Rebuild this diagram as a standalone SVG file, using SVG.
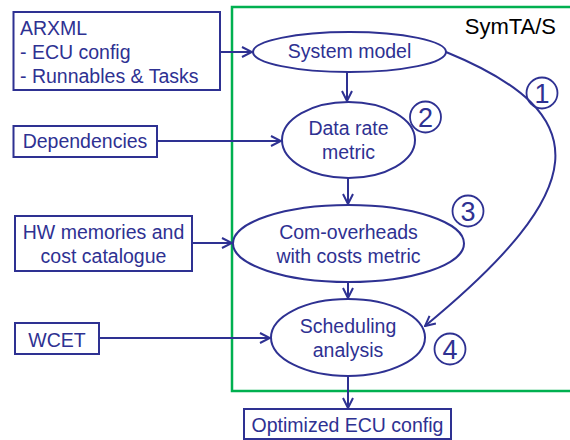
<svg xmlns="http://www.w3.org/2000/svg" width="570" height="440" viewBox="0 0 570 440">
<defs>
<style>
.box{fill:#fff;stroke:#2E3192;stroke-width:2}
.ell{fill:#fff;stroke:#2E3192;stroke-width:2}
.t{font-family:"Liberation Sans",Arial,sans-serif;font-size:19.5px;fill:#2E3192}
.c{text-anchor:middle}
.ln{fill:none;stroke:#2E3192;stroke-width:2}
.num{fill:none;stroke:#2E3192;stroke-width:1.8}
.nt{font-family:"Liberation Sans",Arial,sans-serif;font-size:27px;fill:#2E3192;text-anchor:middle}
</style>
<marker id="ah" viewBox="0 0 12 12" refX="11" refY="6" markerWidth="12" markerHeight="12" markerUnits="userSpaceOnUse" orient="auto">
<path d="M1,1 L11,6 L1,11" fill="none" stroke="#2E3192" stroke-width="2"/>
</marker>
</defs>
<rect width="570" height="440" fill="#fff"/>
<g id="symtas">
<rect x="232" y="7" width="345" height="384" fill="none" stroke="#00B050" stroke-width="2.5"/>
<text x="556" y="34" font-family="Liberation Sans,Arial,sans-serif" font-size="22" fill="#000" text-anchor="end">SymTA/S</text>
</g>
<g id="connectors">
<line class="ln" x1="220" y1="52" x2="252" y2="52" marker-end="url(#ah)"/>
<line class="ln" x1="157" y1="141" x2="281" y2="141" marker-end="url(#ah)"/>
<line class="ln" x1="192" y1="243" x2="232" y2="243" marker-end="url(#ah)"/>
<line class="ln" x1="99" y1="338" x2="270" y2="338" marker-end="url(#ah)"/>
<line class="ln" x1="347" y1="72" x2="347" y2="101" marker-end="url(#ah)"/>
<line class="ln" x1="348" y1="178" x2="348" y2="204" marker-end="url(#ah)"/>
<line class="ln" x1="348" y1="282" x2="348" y2="298" marker-end="url(#ah)"/>
<line class="ln" x1="348" y1="376" x2="348" y2="408" marker-end="url(#ah)"/>
<path class="ln" d="M446,52 C600,115 590,190 425,326" marker-end="url(#ah)"/>
</g>
<g id="arxml">
<rect class="box" x="13.5" y="12" width="206.5" height="78"/>
<text class="t" x="20" y="35">ARXML</text>
<text class="t" x="20" y="59">- ECU config</text>
<text class="t" x="20" y="83">- Runnables &amp; Tasks</text>
</g>
<g id="dependencies">
<rect class="box" x="13.5" y="126" width="143.5" height="31"/>
<text class="t c" x="85" y="148">Dependencies</text>
</g>
<g id="hw">
<rect class="box" x="15" y="216" width="177" height="55"/>
<text class="t c" x="103.5" y="239">HW memories and</text>
<text class="t c" x="103.5" y="263">cost catalogue</text>
</g>
<g id="wcet">
<rect class="box" x="15" y="323" width="84" height="31"/>
<text class="t c" x="57" y="347">WCET</text>
</g>
<g id="optimized">
<rect class="box" x="244" y="409" width="207" height="30"/>
<text class="t c" x="347.5" y="432">Optimized ECU config</text>
</g>
<g id="system-model">
<ellipse class="ell" cx="349.5" cy="52" rx="96.5" ry="20"/>
<text class="t c" x="349.5" y="58">System model</text>
</g>
<g id="data-rate">
<ellipse class="ell" cx="348.5" cy="140" rx="66.5" ry="38"/>
<text class="t c" x="348.5" y="135">Data rate</text>
<text class="t c" x="348.5" y="159">metric</text>
</g>
<g id="com-overheads">
<ellipse class="ell" cx="348.5" cy="243.5" rx="115.5" ry="38.5"/>
<text class="t c" x="348.5" y="239">Com-overheads</text>
<text class="t c" x="348.5" y="263">with costs metric</text>
</g>
<g id="scheduling">
<ellipse class="ell" cx="348" cy="337.5" rx="77" ry="38.5"/>
<text class="t c" x="348" y="333">Scheduling</text>
<text class="t c" x="348" y="357">analysis</text>
</g>
<g id="num1"><circle class="num" cx="542" cy="93" r="15.5"/><text class="nt" x="542" y="102.5">1</text></g>
<g id="num2"><circle class="num" cx="425.5" cy="117" r="15.5"/><text class="nt" x="425.5" y="126.5">2</text></g>
<g id="num3"><circle class="num" cx="468" cy="211" r="15.5"/><text class="nt" x="468" y="220.5">3</text></g>
<g id="num4"><circle class="num" cx="450" cy="349" r="15.5"/><text class="nt" x="450" y="358.5">4</text></g>
</svg>
